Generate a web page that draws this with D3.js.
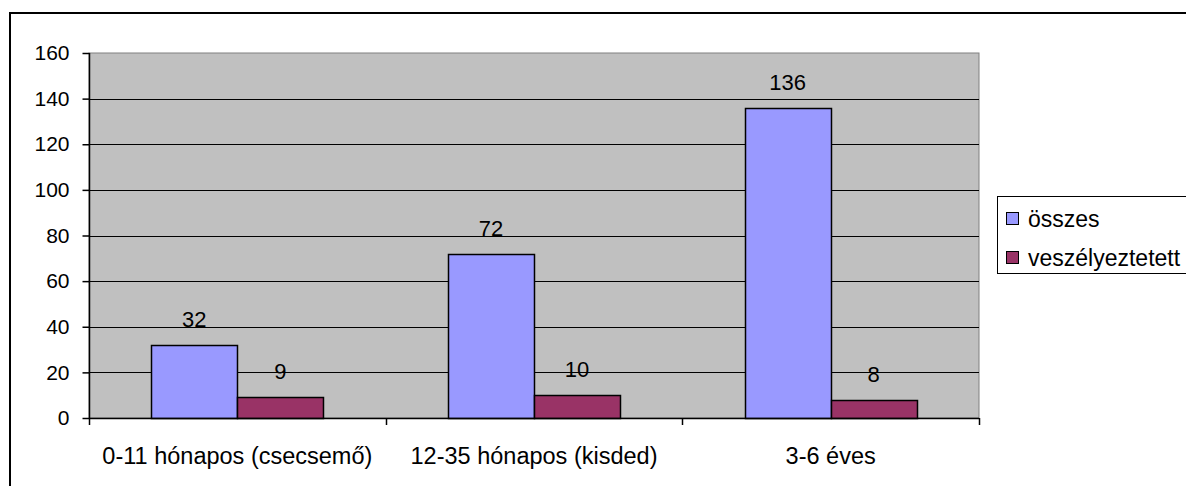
<!DOCTYPE html>
<html>
<head>
<meta charset="utf-8">
<script src="https://cdn.jsdelivr.net/npm/d3@7"></script>
<style>
  body { margin: 0; background: #fff; }
  svg text { font-family: Arial, "Liberation Sans", sans-serif; fill: #000; }
</style>
</head>
<body>
<script>
// chart data
const categories = ["0-11 hónapos (csecsemő)", "12-35 hónapos (kisded)", "3-6 éves"];
const seriesNames = ["összes", "veszélyeztetett"];
const osszes = [32, 72, 136];
const veszelyeztetett = [9, 10, 8];
const yTicks = [0, 20, 40, 60, 80, 100, 120, 140, 160];

window.onload = function() {
    let width = 1186;
    let height = 486;
    let colors = ["#9999ff", "#993366"];

    let svg = d3.select("body")
        .append("svg")
        .attr("width", width)
        .attr("height", height);

    // outer chart border (right and bottom edges fall outside the picture)
    svg.append("rect")
        .attr("x", 10).attr("y", 13)
        .attr("width", 1190).attr("height", 490)
        .style("fill", "none")
        .style("stroke", "#000")
        .style("stroke-width", 2);

    let plot = { left: 89, right: 979, top: 53, bottom: 418 };

    let x = d3.scaleBand()
        .domain(categories)
        .range([plot.left, plot.right])
        .padding(0);

    let xInner = d3.scaleBand()
        .domain(seriesNames)
        .range([0, x.bandwidth()])
        .paddingInner(0)
        .paddingOuter(0.725);

    let y = d3.scaleLinear()
        .domain([0, 160])
        .range([plot.bottom, plot.top]);

    // plot background
    svg.append("rect")
        .attr("x", plot.left).attr("y", plot.top)
        .attr("width", plot.right - plot.left)
        .attr("height", plot.bottom - plot.top)
        .style("fill", "#c0c0c0")
        .style("stroke", "#808080")
        .style("stroke-width", 1);

    // gridlines
    svg.selectAll("line.grid")
        .data(yTicks.filter(d => d > 0 && d < 160))
        .enter()
        .append("line")
        .attr("class", "grid")
        .attr("x1", plot.left).attr("x2", plot.right)
        .attr("y1", d => Math.round(y(d)) + 0.5)
        .attr("y2", d => Math.round(y(d)) + 0.5)
        .style("stroke", "#000")
        .style("stroke-width", 1);

    // bars
    let rows = [];
    categories.forEach(function(c, i) {
        rows.push({ cat: c, s: seriesNames[0], v: osszes[i], k: 0 });
        rows.push({ cat: c, s: seriesNames[1], v: veszelyeztetett[i], k: 1 });
    });

    svg.selectAll("rect.bar")
        .data(rows)
        .enter()
        .append("rect")
        .attr("class", "bar")
        .attr("x", d => Math.round(x(d.cat) + xInner(d.s)) + 0.5)
        .attr("y", d => Math.round(y(d.v)) + 0.5)
        .attr("width", xInner.bandwidth())
        .attr("height", d => y(0) - Math.round(y(d.v)))
        .style("fill", d => colors[d.k])
        .style("stroke", "#000")
        .style("stroke-width", 1.5);

    // value labels
    svg.selectAll("text.val")
        .data(rows)
        .enter()
        .append("text")
        .attr("class", "val")
        .attr("x", d => x(d.cat) + xInner(d.s) + xInner.bandwidth() / 2)
        .attr("y", d => y(d.v) - 18)
        .attr("text-anchor", "middle")
        .style("font-size", "22px")
        .text(d => d.v);

    // y axis
    let yAxis = d3.axisLeft(y)
        .tickValues(yTicks)
        .tickSize(7)
        .tickPadding(13);
    let gy = svg.append("g")
        .attr("transform", "translate(" + (plot.left + 0.5) + ",0)")
        .call(yAxis);
    gy.attr("font-family", null).attr("font-size", null);
    gy.select(".domain").attr("d", "M0," + plot.top + "V" + (plot.bottom + 0.5)).style("stroke-width", 1.5);
    gy.selectAll(".tick line").style("stroke-width", 1.5);
    gy.selectAll("text").style("font-size", "21px");

    // x axis
    let xAxis = d3.axisBottom(x).tickSize(0).tickPadding(0);
    let gx = svg.append("g")
        .attr("transform", "translate(0," + (plot.bottom + 0.5) + ")")
        .call(xAxis);
    gx.attr("font-family", null).attr("font-size", null);
    gx.select(".domain").attr("d", "M" + plot.left + ",0H" + plot.right).style("stroke-width", 1.5);
    gx.selectAll(".tick text")
        .attr("y", 45)
        .attr("dy", 0)
        .style("font-size", "23.5px");

    // category boundary ticks
    let bounds = categories.map(c => x(c)).concat([plot.right]);
    svg.selectAll("line.xt")
        .data(bounds)
        .enter()
        .append("line")
        .attr("class", "xt")
        .attr("x1", d => Math.round(d) + 0.5).attr("x2", d => Math.round(d) + 0.5)
        .attr("y1", plot.bottom).attr("y2", plot.bottom + 7)
        .style("stroke", "#000")
        .style("stroke-width", 1.5);

    // legend
    let legend = svg.append("g").attr("transform", "translate(997,196)");
    legend.append("rect")
        .attr("x", 0.5).attr("y", 0.5)
        .attr("width", 200).attr("height", 77)
        .style("fill", "#fff")
        .style("stroke", "#000")
        .style("stroke-width", 1);
    seriesNames.forEach(function(s, i) {
        let g = legend.append("g").attr("transform", "translate(0," + (23 + i * 39) + ")");
        g.append("rect")
            .attr("x", 9.5).attr("y", -6.5)
            .attr("width", 12).attr("height", 12)
            .style("fill", colors[i])
            .style("stroke", "#000")
            .style("stroke-width", 1);
        g.append("text")
            .attr("x", 31)
            .attr("y", 8)
            .style("font-size", "23px")
            .text(s);
    });
};
</script>
</body>
</html>
